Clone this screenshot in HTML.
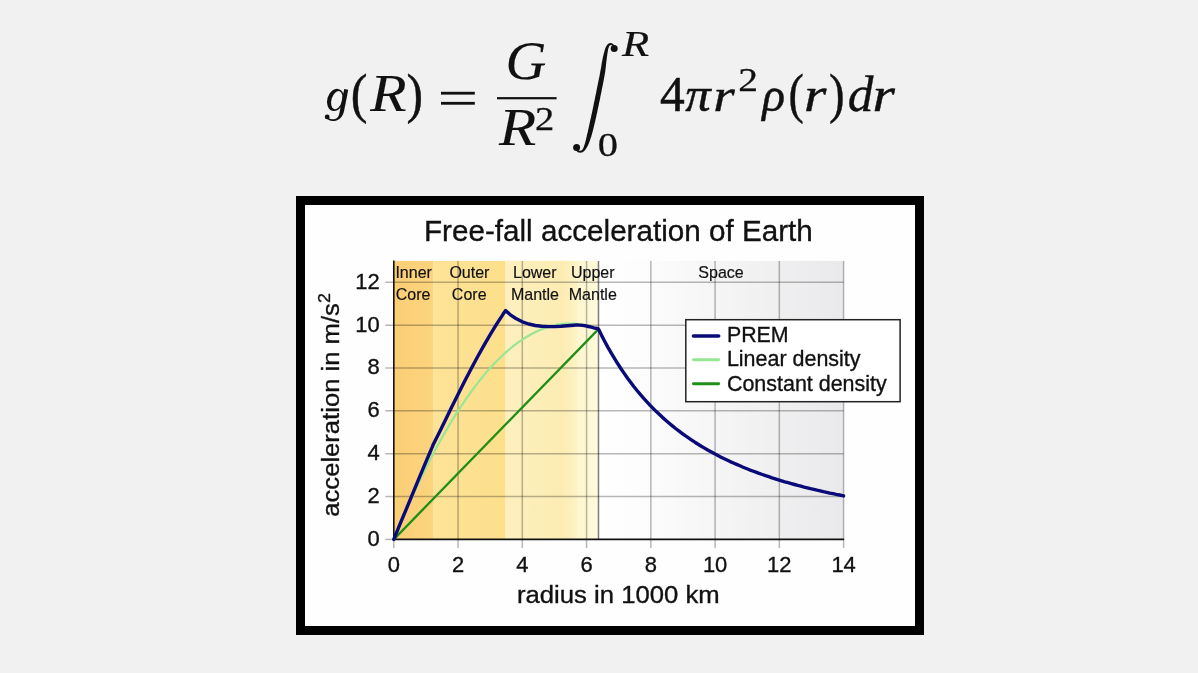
<!DOCTYPE html>
<html><head><meta charset="utf-8"><title>Free-fall acceleration of Earth</title>
<style>html,body{margin:0;padding:0;background:#f1f1f1;overflow:hidden}svg{display:block;filter:blur(0.45px)}text{font-family:"Liberation Sans",sans-serif;fill:#111}.m{font-family:"Liberation Serif",serif;fill:#111}</style></head><body>
<svg width="1198" height="673" viewBox="0 0 1198 673">
<defs>
<linearGradient id="gs" x1="0" x2="1" y1="0" y2="0"><stop offset="0" stop-color="#ffffff"/><stop offset="0.2" stop-color="#fcfcfc"/><stop offset="1" stop-color="#e9e9eb"/></linearGradient>
<linearGradient id="gic" x1="0" x2="1"><stop offset="0" stop-color="#fbce76"/><stop offset="1" stop-color="#fcd47e"/></linearGradient>
<linearGradient id="goc" x1="0" x2="1"><stop offset="0" stop-color="#fde398"/><stop offset="1" stop-color="#fddf8b"/></linearGradient>
<linearGradient id="glm" x1="0" x2="1"><stop offset="0" stop-color="#fdf0be"/><stop offset="0.8" stop-color="#fcecb3"/><stop offset="1" stop-color="#fdf3c6"/></linearGradient>
<linearGradient id="gum" x1="0" x2="1"><stop offset="0" stop-color="#fdf6cf"/><stop offset="1" stop-color="#fefadb"/></linearGradient>
</defs>
<rect width="1198" height="673" fill="#f1f1f1"/>
<g id="formula">
<path fill="#111" fill-rule="evenodd" transform="rotate(17 335.4 99.9)" d="M327.3 99.9 a8.35 11.3 0 1 0 16.7 0 a8.35 11.3 0 1 0 -16.7 0 Z M331.5 99.7 a5.3 9.3 0 1 0 10.6 0 a5.3 9.3 0 1 0 -10.6 0 Z"/>
<path fill="#111" d="M344.2 89.0 L344.1 89.5 L344.0 90.1 L343.9 90.8 L343.7 91.7 L343.5 92.6 L343.3 93.5 L343.1 94.4 L342.9 95.4 L342.7 96.3 L342.5 97.1 L342.4 97.9 L342.2 98.7 L342.0 99.5 L341.9 100.3 L341.7 101.1 L341.6 101.9 L341.4 102.7 L341.3 103.5 L341.1 104.3 L340.9 105.1 L340.8 105.9 L340.6 106.7 L340.5 107.5 L340.4 108.3 L340.2 109.1 L340.1 109.8 L339.9 110.6 L339.8 111.2 L339.7 111.8 L339.5 112.4 L339.4 113.0 L339.3 113.5 L339.2 113.9 L339.1 114.4 L339.0 114.8 L338.8 115.2 L338.7 115.5 L338.6 115.9 L338.4 116.2 L338.2 116.5 L338.0 116.8 L337.8 117.1 L337.5 117.4 L337.2 117.7 L336.9 117.9 L336.6 118.2 L336.2 118.4 L335.9 118.6 L335.5 118.8 L335.2 118.9 L334.9 119.0 L334.5 119.1 L334.2 119.2 L333.8 119.2 L333.5 119.2 L333.1 119.3 L332.7 119.2 L332.3 119.2 L332.0 119.2 L331.6 119.2 L331.3 119.1 L331.0 119.0 L330.6 119.0 L330.3 118.9 L330.0 118.7 L329.7 118.6 L329.4 118.5 L329.1 118.4 L328.8 118.2 L328.6 118.1 L328.4 118.0 L328.3 117.9 L328.1 117.8 L328.0 117.6 L327.9 117.5 L327.8 117.4 L327.7 117.2 L327.6 117.1 L327.5 117.0 L327.4 116.9 L326.2 117.9 L326.3 118.0 L326.3 118.1 L326.4 118.2 L326.5 118.4 L326.7 118.5 L326.9 118.7 L327.0 118.9 L327.3 119.1 L327.5 119.3 L327.8 119.5 L328.1 119.6 L328.4 119.8 L328.7 120.0 L329.0 120.1 L329.4 120.3 L329.8 120.4 L330.2 120.5 L330.6 120.7 L331.0 120.8 L331.4 120.8 L331.8 120.9 L332.2 120.9 L332.6 121.0 L333.1 121.0 L333.5 121.0 L334.0 121.0 L334.4 121.0 L334.9 120.9 L335.3 120.8 L335.8 120.7 L336.2 120.6 L336.7 120.4 L337.1 120.2 L337.6 120.0 L338.0 119.8 L338.5 119.5 L338.9 119.3 L339.4 118.9 L339.8 118.6 L340.2 118.3 L340.6 117.9 L340.9 117.5 L341.3 117.1 L341.6 116.7 L341.9 116.2 L342.2 115.8 L342.5 115.3 L342.8 114.7 L343.0 114.2 L343.3 113.6 L343.5 112.9 L343.7 112.2 L343.9 111.4 L344.1 110.7 L344.3 109.9 L344.4 109.1 L344.6 108.3 L344.7 107.5 L344.9 106.7 L345.1 105.9 L345.2 105.1 L345.4 104.4 L345.6 103.6 L345.7 102.8 L345.9 102.0 L346.0 101.1 L346.2 100.3 L346.3 99.5 L346.5 98.7 L346.7 97.9 L346.8 97.1 L347.0 96.2 L347.2 95.2 L347.3 94.3 L347.5 93.3 L347.7 92.5 L347.8 91.6 L348.0 90.9 L348.1 90.3 L348.2 89.8Z"/>
<circle cx="327.2" cy="116.9" r="2.4" fill="#111"/>
<text class="m" font-size="100" font-style="normal" stroke="#111" stroke-width="0.8" stroke-linejoin="round" transform="matrix(0.5020 0 0 0.5522 350.74 111.50)">(</text>
<text class="m" font-size="100" font-style="italic" stroke="#111" stroke-width="0.15" stroke-linejoin="round" transform="matrix(0.5950 0 0 0.5246 370.20 111.40)">R</text>
<text class="m" font-size="100" font-style="normal" stroke="#111" stroke-width="0.8" stroke-linejoin="round" transform="matrix(0.4962 0 0 0.5522 406.41 111.50)">)</text>
<rect x="441.0" y="91.8" width="33.8" height="2.8" fill="#111"/>
<rect x="441.0" y="101.9" width="33.8" height="2.8" fill="#111"/>
<rect x="497.0" y="97.1" width="59.6" height="2.2" fill="#111"/>
<text class="m" font-size="100" font-style="italic" stroke="#111" stroke-width="0.2" stroke-linejoin="round" transform="matrix(0.5659 0 0 0.5493 505.59 78.65)">G</text>
<text class="m" font-size="100" font-style="italic" stroke="#111" stroke-width="0.15" stroke-linejoin="round" transform="matrix(0.6100 0 0 0.5246 498.91 145.40)">R</text>
<text class="m" font-size="100" font-style="normal" stroke="#111" stroke-width="0.8" stroke-linejoin="round" transform="matrix(0.3850 0 0 0.3333 535.07 130.30)">2</text>
<text class="m" font-size="100" font-style="italic" stroke="#111" stroke-width="0.5" stroke-linejoin="round" transform="matrix(0.4450 0 0 0.3554 622.12 56.10)">R</text>
<text class="m" font-size="100" font-style="normal" stroke="#111" stroke-width="0.8" stroke-linejoin="round" transform="matrix(0.4048 0 0 0.3348 597.78 155.67)">0</text>
<text class="m" font-size="100" font-style="normal" stroke="#111" stroke-width="1.1" stroke-linejoin="round" transform="matrix(0.4946 0 0 0.5154 660.11 111.26)">4</text>
<text class="m" font-size="100" font-style="italic" stroke="#111" stroke-width="1.0" stroke-linejoin="round" transform="matrix(0.5077 0 0 0.4882 685.35 110.81)">π</text>
<text class="m" font-size="100" font-style="italic" stroke="#111" stroke-width="0.9" stroke-linejoin="round" transform="matrix(0.5514 0 0 0.4731 713.19 111.44)">r</text>
<text class="m" font-size="100" font-style="normal" stroke="#111" stroke-width="0.8" stroke-linejoin="round" transform="matrix(0.3950 0 0 0.3455 738.22 91.00)">2</text>
<text class="m" font-size="100" font-style="italic" stroke="#111" stroke-width="1.0" stroke-linejoin="round" transform="matrix(0.4737 0 0 0.4765 762.28 110.99)">ρ</text>
<text class="m" font-size="100" font-style="normal" stroke="#111" stroke-width="0.8" stroke-linejoin="round" transform="matrix(0.4588 0 0 0.5522 788.54 111.50)">(</text>
<text class="m" font-size="100" font-style="italic" stroke="#111" stroke-width="0.9" stroke-linejoin="round" transform="matrix(0.5743 0 0 0.4774 803.90 111.44)">r</text>
<text class="m" font-size="100" font-style="normal" stroke="#111" stroke-width="0.8" stroke-linejoin="round" transform="matrix(0.4692 0 0 0.5522 828.99 111.50)">)</text>
<text class="m" font-size="100" font-style="italic" stroke="#111" stroke-width="0.7" stroke-linejoin="round" transform="matrix(0.5128 0 0 0.5043 847.66 110.90)">d</text>
<text class="m" font-size="100" font-style="italic" stroke="#111" stroke-width="0.9" stroke-linejoin="round" transform="matrix(0.5743 0 0 0.4774 872.50 111.44)">r</text>
<path fill="#111" d="M614.5 45.3 L614.3 45.1 L614.1 44.9 L613.8 44.7 L613.4 44.4 L613.0 44.0 L612.6 43.7 L612.1 43.4 L611.6 43.2 L611.0 43.0 L610.3 43.0 L609.8 43.1 L609.4 43.3 L608.9 43.5 L608.4 43.8 L608.0 44.1 L607.5 44.6 L607.1 45.0 L606.7 45.6 L606.3 46.3 L605.9 47.0 L605.5 47.8 L605.2 48.7 L604.9 49.6 L604.6 50.7 L604.3 51.7 L604.0 52.9 L603.7 54.0 L603.4 55.2 L603.1 56.4 L602.8 57.6 L602.6 58.9 L602.3 60.2 L602.1 61.5 L601.8 62.8 L601.6 64.2 L601.4 65.6 L601.2 67.0 L600.9 68.5 L600.6 70.0 L600.3 71.6 L600.0 73.3 L599.7 75.0 L599.3 76.9 L598.9 78.8 L598.5 80.8 L598.1 82.7 L597.7 84.7 L597.3 86.7 L596.9 88.6 L596.5 90.5 L596.2 92.4 L595.8 94.2 L595.4 96.1 L595.0 97.9 L594.7 99.7 L594.3 101.6 L593.9 103.3 L593.6 105.1 L593.2 106.8 L592.9 108.5 L592.5 110.1 L592.2 111.7 L591.8 113.3 L591.5 114.8 L591.2 116.3 L590.9 117.8 L590.5 119.2 L590.2 120.6 L589.9 122.0 L589.6 123.4 L589.3 124.8 L589.0 126.2 L588.7 127.6 L588.4 129.0 L588.1 130.3 L587.8 131.7 L587.5 132.9 L587.2 134.1 L586.9 135.3 L586.7 136.4 L586.4 137.5 L586.2 138.5 L586.0 139.4 L585.8 140.3 L585.6 141.1 L585.3 141.9 L585.1 142.7 L584.9 143.4 L584.7 144.2 L584.5 144.8 L584.2 145.5 L584.0 146.2 L583.8 146.8 L583.5 147.4 L583.3 148.0 L583.1 148.5 L582.8 148.9 L582.6 149.3 L582.3 149.7 L582.1 150.0 L581.9 150.2 L581.6 150.3 L581.3 150.5 L581.0 150.6 L580.7 150.6 L580.4 150.7 L580.0 150.7 L579.7 150.7 L579.4 150.7 L579.2 150.7 L579.0 150.6 L578.8 150.6 L578.7 150.5 L578.5 150.3 L578.3 150.2 L578.1 150.0 L577.9 149.8 L577.7 149.6 L577.5 149.4 L577.4 149.3 L576.2 150.7 L576.3 150.8 L576.4 150.9 L576.6 151.1 L576.8 151.3 L577.0 151.5 L577.3 151.8 L577.6 152.0 L578.0 152.2 L578.4 152.4 L578.8 152.5 L579.2 152.6 L579.6 152.6 L580.0 152.7 L580.5 152.7 L581.0 152.6 L581.5 152.5 L582.0 152.4 L582.5 152.2 L583.0 152.0 L583.5 151.6 L584.0 151.3 L584.4 150.8 L584.8 150.4 L585.2 149.9 L585.6 149.3 L586.0 148.7 L586.4 148.1 L586.8 147.5 L587.2 146.8 L587.5 146.2 L587.9 145.4 L588.2 144.7 L588.6 143.9 L588.9 143.2 L589.2 142.3 L589.6 141.5 L589.9 140.6 L590.2 139.6 L590.6 138.6 L590.9 137.6 L591.3 136.5 L591.6 135.3 L592.0 134.1 L592.3 132.8 L592.7 131.5 L593.0 130.1 L593.4 128.7 L593.7 127.4 L594.0 126.0 L594.4 124.6 L594.7 123.1 L595.1 121.7 L595.4 120.3 L595.7 118.8 L596.1 117.3 L596.4 115.8 L596.7 114.3 L597.1 112.7 L597.4 111.2 L597.7 109.5 L598.1 107.8 L598.5 106.1 L598.8 104.4 L599.2 102.6 L599.6 100.8 L600.0 98.9 L600.3 97.1 L600.7 95.2 L601.1 93.3 L601.5 91.5 L601.8 89.6 L602.2 87.7 L602.6 85.7 L603.0 83.7 L603.4 81.7 L603.8 79.8 L604.1 77.8 L604.5 75.9 L604.8 74.1 L605.1 72.4 L605.3 70.8 L605.5 69.2 L605.7 67.6 L605.9 66.2 L606.0 64.8 L606.2 63.4 L606.3 62.1 L606.5 60.8 L606.6 59.6 L606.8 58.4 L606.9 57.1 L607.1 55.9 L607.3 54.7 L607.4 53.6 L607.6 52.4 L607.8 51.4 L607.9 50.4 L608.1 49.5 L608.3 48.7 L608.5 48.0 L608.7 47.4 L608.9 46.9 L609.1 46.5 L609.4 46.1 L609.6 45.8 L609.8 45.6 L610.0 45.4 L610.3 45.2 L610.5 45.1 L610.7 45.0 L610.8 45.0 L610.9 45.0 L611.2 45.1 L611.5 45.3 L611.9 45.5 L612.3 45.8 L612.6 46.1 L612.9 46.3 L613.2 46.6 L613.5 46.7Z"/>
<circle cx="614.2" cy="48.6" r="3.5" fill="#111"/>
<circle cx="576.6" cy="147.6" r="3.5" fill="#111"/>
</g>
<rect x="296" y="196" width="628" height="439" fill="#000"/>
<rect x="305" y="205" width="610" height="421" fill="#fefefe"/>
<rect x="393.80" y="260.90" width="39.25" height="278.50" fill="url(#gic)"/>
<rect x="433.05" y="260.90" width="72.56" height="278.50" fill="url(#goc)"/>
<rect x="505.61" y="260.90" width="71.36" height="278.50" fill="url(#glm)"/>
<rect x="576.96" y="260.90" width="21.53" height="278.50" fill="url(#gum)"/>
<rect x="598.49" y="260.90" width="245.11" height="278.50" fill="url(#gs)"/>
<g stroke="#000" stroke-opacity="0.28" stroke-width="1.5" fill="none">
<line x1="458.06" y1="260.90" x2="458.06" y2="547.90"/>
<line x1="522.31" y1="260.90" x2="522.31" y2="547.90"/>
<line x1="586.57" y1="260.90" x2="586.57" y2="547.90"/>
<line x1="650.83" y1="260.90" x2="650.83" y2="547.90"/>
<line x1="715.09" y1="260.90" x2="715.09" y2="547.90"/>
<line x1="779.34" y1="260.90" x2="779.34" y2="547.90"/>
<line x1="843.60" y1="260.90" x2="843.60" y2="547.90"/>
<line x1="385.30" y1="496.55" x2="843.60" y2="496.55"/>
<line x1="385.30" y1="453.71" x2="843.60" y2="453.71"/>
<line x1="385.30" y1="410.86" x2="843.60" y2="410.86"/>
<line x1="385.30" y1="368.02" x2="843.60" y2="368.02"/>
<line x1="385.30" y1="325.17" x2="843.60" y2="325.17"/>
<line x1="385.30" y1="282.32" x2="843.60" y2="282.32"/>
<line x1="393.80" y1="539.40" x2="393.80" y2="547.90"/>
<line x1="385.30" y1="539.40" x2="393.80" y2="539.40"/>
</g>
<line x1="598.49" y1="260.90" x2="598.49" y2="539.40" stroke="#000" stroke-opacity="0.5" stroke-width="1.5"/>
<line x1="393.80" y1="260.40" x2="393.80" y2="540.20" stroke="#111" stroke-width="1.6"/>
<line x1="393.00" y1="539.40" x2="844.10" y2="539.40" stroke="#111" stroke-width="1.6"/>
<polyline fill="none" stroke="#1f8f18" stroke-width="2.3" stroke-linejoin="round" stroke-linecap="round" points="393.8,539.4 598.5,329.1"/>
<polyline fill="none" stroke="#98e694" stroke-width="2.2" stroke-linejoin="round" stroke-linecap="round" points="393.8,539.4 397.2,531.1 400.6,523.0 404.0,515.1 407.4,507.3 410.9,499.7 414.3,492.3 417.7,485.0 421.1,477.8 424.5,470.9 427.9,464.0 431.3,457.4 434.7,450.9 438.1,444.6 441.6,438.4 445.0,432.4 448.4,426.6 451.8,420.9 455.2,415.4 458.6,410.0 462.0,404.8 465.4,399.8 468.9,394.9 472.3,390.2 475.7,385.6 479.1,381.2 482.5,377.0 485.9,372.9 489.3,369.0 492.7,365.3 496.1,361.7 499.6,358.3 503.0,355.0 506.4,351.9 509.8,349.0 513.2,346.2 516.6,343.6 520.0,341.1 523.4,338.8 526.8,336.7 530.3,334.7 533.7,332.9 537.1,331.2 540.5,329.7 543.9,328.4 547.3,327.2 550.7,326.2 554.1,325.4 557.6,324.7 561.0,324.2 564.4,323.8 567.8,323.6 571.2,323.6 574.6,323.7 578.0,324.0 581.4,324.4 584.8,325.0 588.3,325.8 591.7,326.7 595.1,327.8 598.5,329.1"/>
<polyline fill="none" stroke="#0a0a78" stroke-width="3.4" stroke-linejoin="round" stroke-linecap="round" points="393.8,539.4 400.2,523.7 406.7,508.1 413.1,492.6 419.5,477.1 425.9,461.8 432.4,446.7 433.0,445.1 438.8,433.5 445.2,420.4 451.6,407.3 458.1,394.3 464.5,381.6 470.9,369.2 477.3,357.3 483.8,345.7 490.2,334.7 496.6,324.2 503.0,314.3 505.6,310.6 509.5,314.0 510.4,314.8 515.9,318.5 522.3,321.8 528.7,324.0 535.2,325.5 541.6,326.3 548.0,326.6 554.4,326.6 560.9,326.3 567.3,325.8 573.7,325.2 577.0,324.9 579.2,325.1 582.4,325.4 585.6,325.8 588.5,326.5 591.4,327.2 593.7,327.8 595.9,328.3 597.7,328.6 598.0,328.7 598.4,329.0 598.5,329.1 601.7,335.6 604.9,341.7 608.1,347.6 611.3,353.2 614.6,358.6 617.8,363.8 621.0,368.7 624.2,373.4 627.4,378.0 630.6,382.3 633.8,386.5 637.0,390.5 640.3,394.4 643.5,398.1 646.7,401.6 649.9,405.1 653.1,408.4 656.3,411.6 659.5,414.6 662.7,417.6 666.0,420.5 669.2,423.2 672.4,425.9 675.6,428.5 678.8,430.9 682.0,433.3 685.2,435.7 688.5,437.9 691.7,440.1 694.9,442.2 698.1,444.2 701.3,446.2 704.5,448.1 707.7,450.0 710.9,451.8 714.2,453.6 717.4,455.2 720.6,456.9 723.8,458.5 727.0,460.0 730.2,461.6 733.4,463.0 736.6,464.4 739.9,465.8 743.1,467.2 746.3,468.5 749.5,469.8 752.7,471.0 755.9,472.2 759.1,473.4 762.3,474.5 765.6,475.7 768.8,476.7 772.0,477.8 775.2,478.8 778.4,479.8 781.6,480.8 784.8,481.8 788.0,482.7 791.3,483.6 794.5,484.5 797.7,485.4 800.9,486.2 804.1,487.1 807.3,487.9 810.5,488.7 813.8,489.4 817.0,490.2 820.2,490.9 823.4,491.7 826.6,492.4 829.8,493.1 833.0,493.7 836.2,494.4 839.5,495.0 842.7,495.7 843.6,495.9"/>
<text transform="translate(618.4 241.2) scale(1.002 1)" font-size="29.6" text-anchor="middle" stroke="#111" stroke-width="0.35">Free-fall acceleration of Earth</text>
<text transform="translate(379.7 545.7) scale(0.972 1)" font-size="22.6" text-anchor="end" stroke="#111" stroke-width="0.35">0</text>
<text transform="translate(379.7 502.9) scale(0.972 1)" font-size="22.6" text-anchor="end" stroke="#111" stroke-width="0.35">2</text>
<text transform="translate(379.7 460.0) scale(0.972 1)" font-size="22.6" text-anchor="end" stroke="#111" stroke-width="0.35">4</text>
<text transform="translate(379.7 417.2) scale(0.972 1)" font-size="22.6" text-anchor="end" stroke="#111" stroke-width="0.35">6</text>
<text transform="translate(379.7 374.3) scale(0.972 1)" font-size="22.6" text-anchor="end" stroke="#111" stroke-width="0.35">8</text>
<text transform="translate(379.7 331.5) scale(0.972 1)" font-size="22.6" text-anchor="end" stroke="#111" stroke-width="0.35">10</text>
<text transform="translate(379.7 288.6) scale(0.972 1)" font-size="22.6" text-anchor="end" stroke="#111" stroke-width="0.35">12</text>
<text transform="translate(393.8 572.1) scale(0.972 1)" font-size="22.6" text-anchor="middle" stroke="#111" stroke-width="0.35">0</text>
<text transform="translate(458.1 572.1) scale(0.972 1)" font-size="22.6" text-anchor="middle" stroke="#111" stroke-width="0.35">2</text>
<text transform="translate(522.3 572.1) scale(0.972 1)" font-size="22.6" text-anchor="middle" stroke="#111" stroke-width="0.35">4</text>
<text transform="translate(586.6 572.1) scale(0.972 1)" font-size="22.6" text-anchor="middle" stroke="#111" stroke-width="0.35">6</text>
<text transform="translate(650.8 572.1) scale(0.972 1)" font-size="22.6" text-anchor="middle" stroke="#111" stroke-width="0.35">8</text>
<text transform="translate(715.1 572.1) scale(0.972 1)" font-size="22.6" text-anchor="middle" stroke="#111" stroke-width="0.35">10</text>
<text transform="translate(779.3 572.1) scale(0.972 1)" font-size="22.6" text-anchor="middle" stroke="#111" stroke-width="0.35">12</text>
<text transform="translate(843.6 572.1) scale(0.972 1)" font-size="22.6" text-anchor="middle" stroke="#111" stroke-width="0.35">14</text>
<text transform="translate(618.3 603.3) scale(1.057 1)" font-size="24.3" text-anchor="middle" stroke="#111" stroke-width="0.35">radius in 1000 km</text>
<text font-size="24.6" text-anchor="middle" stroke="#111" stroke-width="0.35" transform="translate(339.2 405) rotate(-90) scale(1.042 1)">acceleration in m/s<tspan font-size="17" dy="-8.8">2</tspan></text>
<text transform="translate(395.4 278.4) scale(0.965 1)" font-size="16.6" text-anchor="start" stroke="#111" stroke-width="0.18">Inner</text>
<text transform="translate(395.8 299.7) scale(0.965 1)" font-size="16.6" text-anchor="start" stroke="#111" stroke-width="0.18">Core</text>
<text transform="translate(469.4 278.4) scale(0.965 1)" font-size="16.6" text-anchor="middle" stroke="#111" stroke-width="0.18">Outer</text>
<text transform="translate(469.2 299.7) scale(0.965 1)" font-size="16.6" text-anchor="middle" stroke="#111" stroke-width="0.18">Core</text>
<text transform="translate(534.8 278.4) scale(0.965 1)" font-size="16.6" text-anchor="middle" stroke="#111" stroke-width="0.18">Lower</text>
<text transform="translate(535.0 299.7) scale(0.965 1)" font-size="16.6" text-anchor="middle" stroke="#111" stroke-width="0.18">Mantle</text>
<text transform="translate(592.8 278.4) scale(0.965 1)" font-size="16.6" text-anchor="middle" stroke="#111" stroke-width="0.18">Upper</text>
<text transform="translate(592.8 299.7) scale(0.965 1)" font-size="16.6" text-anchor="middle" stroke="#111" stroke-width="0.18">Mantle</text>
<text transform="translate(721.0 278.4) scale(0.965 1)" font-size="16.6" text-anchor="middle" stroke="#111" stroke-width="0.18">Space</text>
<rect x="685.8" y="319.7" width="214.3" height="82.0" fill="#fff" stroke="#222" stroke-width="1.5"/>
<line x1="693.4" y1="336" x2="718.7" y2="336" stroke="#0a0a78" stroke-width="3.5" stroke-linecap="round"/>
<line x1="693.4" y1="359.8" x2="718.7" y2="359.8" stroke="#98e694" stroke-width="2.9" stroke-linecap="round"/>
<line x1="693.4" y1="383.8" x2="718.7" y2="383.8" stroke="#1f8f18" stroke-width="2.9" stroke-linecap="round"/>
<text transform="translate(726.9 342.2) scale(0.985 1)" font-size="21.7" text-anchor="start" stroke="#111" stroke-width="0.35">PREM</text>
<text transform="translate(726.9 366.4) scale(0.989 1)" font-size="21.7" text-anchor="start" stroke="#111" stroke-width="0.35">Linear density</text>
<text transform="translate(726.9 390.7) scale(0.989 1)" font-size="21.7" text-anchor="start" stroke="#111" stroke-width="0.35">Constant density</text>
</svg></body></html>
